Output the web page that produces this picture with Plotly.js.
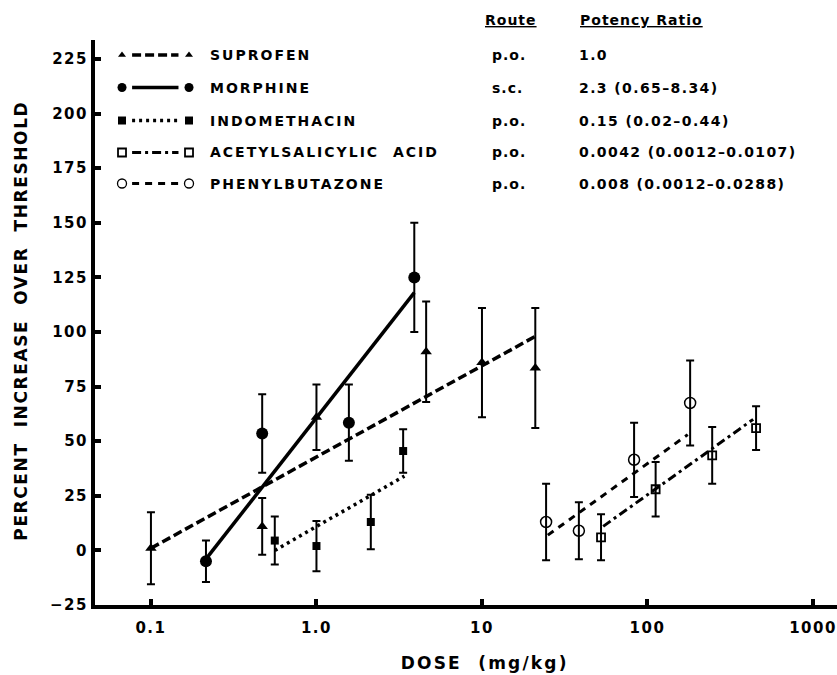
<!DOCTYPE html>
<html><head><meta charset="utf-8">
<script src="https://cdn.plot.ly/plotly-3.0.1.min.js"></script>
<style>body{margin:0;background:#fff}</style>
</head><body>
<div id="chart" style="width:837px;height:675px"></div>
<script>
// ---------------- DATA ----------------
const drugNames = ['SUPROFEN', 'MORPHINE', 'INDOMETHACIN', 'ACETYLSALICYLIC  ACID', 'PHENYLBUTAZONE'];
const drugRoutes = ['p.o.', 's.c.', 'p.o.', 'p.o.', 'p.o.'];
const potencyRatios = ['1.0', '2.3 (0.65\u20138.34)', '0.15 (0.02\u20130.44)', '0.0042 (0.0012\u20130.0107)', '0.008 (0.0012\u20130.0288)'];

const suprofenDose = [0.1, 0.47, 1.0, 4.6, 10, 21];
const suprofenResp = [1, 11, 61, 91, 86, 83.5];
const suprofenErr  = [16.5, 13, 15, 23, 25, 27.5];
const suprofenFitDose = [0.1, 21];
const suprofenFitResp = [1, 98];

const morphineDose = [0.215, 0.47, 1.57, 3.9];
const morphineResp = [-5, 53.5, 58.5, 125];
const morphineErr  = [9.5, 18, 17.5, 25];
const morphineFitDose = [0.22, 3.9];
const morphineFitResp = [-3, 118];

const indoDose = [0.56, 1.0, 2.13, 3.34];
const indoResp = [4.5, 2, 13, 45.5];
const indoErr  = [11, 11.5, 12.5, 10];
const indoFitDose = [0.56, 3.4];
const indoFitResp = [0, 34];

const asaDose = [52.4, 112, 246, 453];
const asaResp = [6, 28, 43.5, 56];
const asaErr  = [10.5, 12.5, 13, 10];
const asaFitDose = [54, 435];
const asaFitResp = [11, 60];

const phenDose = [24.4, 38.5, 83, 181];
const phenResp = [13, 9, 41.5, 67.5];
const phenErr  = [17.5, 13, 17, 19.5];
const phenFitDose = [25, 175];
const phenFitResp = [7, 53];

const doseTickVals = [0.1, 1, 10, 100, 1000];
const doseTickText = ['0.1', '1.0', '10', '100', '1000'];
const respTickVals = [-25, 0, 25, 50, 75, 100, 125, 150, 175, 200, 225];

// ---------------- STYLES ----------------
const FONT = 'DejaVu Sans';
const styles = [
  {marker: {symbol: 'triangle-up', size: 10, color: '#000'}, lmarker: {symbol: 'triangle-up', size: 7, color: '#000'}, line: {color: '#000', width: 3.5, dash: '9px,4px'}},
  {marker: {symbol: 'circle', size: 12, color: '#000'}, lmarker: {symbol: 'circle', size: 9, color: '#000'}, line: {color: '#000', width: 3.5}},
  {marker: {symbol: 'square', size: 8, color: '#000'}, lmarker: {symbol: 'square', size: 8, color: '#000'}, line: {color: '#000', width: 3.5, dash: '3px,4px'}},
  {marker: {symbol: 'square-open', size: 8, color: '#000', line: {width: 1.8}}, lmarker: {symbol: 'square-open', size: 8, color: '#000', line: {width: 1.8}}, line: {color: '#000', width: 3, dash: '9px,4px,3px,4px'}},
  {marker: {symbol: 'circle-open', size: 11, color: '#000', line: {width: 1.5}}, lmarker: {symbol: 'circle-open', size: 9, color: '#000', line: {width: 1.3}}, line: {color: '#000', width: 3, dash: '7px,6px'}}
];

const series = [
  [suprofenDose, suprofenResp, suprofenErr, suprofenFitDose, suprofenFitResp],
  [morphineDose, morphineResp, morphineErr, morphineFitDose, morphineFitResp],
  [indoDose, indoResp, indoErr, indoFitDose, indoFitResp],
  [asaDose, asaResp, asaErr, asaFitDose, asaFitResp],
  [phenDose, phenResp, phenErr, phenFitDose, phenFitResp]
];

const traces = [];
series.forEach((s, i) => {
  traces.push({type: 'scatter', mode: 'lines', x: s[3], y: s[4], line: styles[i].line,
    showlegend: false, hoverinfo: 'skip', cliponaxis: false});
  traces.push({type: 'scatter', mode: 'markers', x: s[0], y: s[1], marker: styles[i].marker,
    error_y: {type: 'data', array: s[2], visible: true, color: '#000', thickness: 2, width: 4},
    showlegend: false, cliponaxis: false, name: drugNames[i]});
});

// legend key glyphs (layout, in paper-like units of an overlay axis)
const keyRowY = [0.9735, 0.9159, 0.8575, 0.8009, 0.7460];
const keyMarkX = [0.0364, 0.1267];
const keyLineX = [0.0500, 0.1125];
drugNames.forEach((n, i) => {
  traces.push({type: 'scatter', mode: 'lines', x: keyLineX, y: [keyRowY[i], keyRowY[i]],
    xaxis: 'x2', yaxis: 'y2', line: styles[i].line, showlegend: false, hoverinfo: 'skip', cliponaxis: false});
  traces.push({type: 'scatter', mode: 'markers', x: keyMarkX, y: [keyRowY[i], keyRowY[i]],
    xaxis: 'x2', yaxis: 'y2', marker: styles[i].lmarker, showlegend: false, hoverinfo: 'skip', cliponaxis: false});
});

const annotations = [];
const spacing = [];
function ann(text, x, y, size, sp, extra) {
  annotations.push(Object.assign({text: text, x: x, y: y, xref: 'paper', yref: 'paper',
    xanchor: 'left', yanchor: 'middle', align: 'left', showarrow: false,
    font: {family: FONT, size: size, color: '#000', weight: 'bold'}}, extra || {}));
  spacing.push(sp);
}
drugNames.forEach((n, i) => {
  ann(n, 0.1523, keyRowY[i], 14, 2);
  ann(drugRoutes[i], 0.532, keyRowY[i], 14, 1);
  ann(potencyRatios[i], 0.650, keyRowY[i], 14, 1.4);
});
ann('Route', 0.523, 1.035, 14, 1, {font: {family: FONT, size: 14, color: '#000', weight: 'bold', lineposition: 'under'}});
ann('Potency Ratio', 0.651, 1.035, 14, 1, {font: {family: FONT, size: 14, color: '#000', weight: 'bold', lineposition: 'under'}});
ann('DOSE  (mg/kg)', 0.5256, -0.1027, 17, 2.2, {xanchor: 'center', align: 'center'});
ann('PERCENT  INCREASE  OVER  THRESHOLD', -0.1004, 0.5027, 17, 1.6, {xanchor: 'center', align: 'center', textangle: -90});

const axisFont = {family: FONT, size: 15, color: '#000', weight: 'bold'};
const layout = {
  width: 837, height: 675,
  margin: {l: 95, r: 0, t: 40, b: 70},
  paper_bgcolor: '#fff', plot_bgcolor: '#fff',
  font: {family: FONT, color: '#000'},
  showlegend: false,
  xaxis: {type: 'log', range: [-1.338, 3.145], tickvals: doseTickVals, ticktext: doseTickText,
    ticks: 'inside', ticklen: 6, tickwidth: 4, tickcolor: '#000',
    showline: true, linewidth: 4, linecolor: '#000', showgrid: false, zeroline: false,
    tickfont: axisFont, ticklabelstandoff: 6},
  yaxis: {range: [-25, 233.7], tickvals: respTickVals,
    ticks: 'inside', ticklen: 6, tickwidth: 4, tickcolor: '#000',
    showline: true, linewidth: 4, linecolor: '#000', showgrid: false, zeroline: false,
    tickfont: axisFont, ticklabelstandoff: 0},
  xaxis2: {overlaying: 'x', range: [0, 1], visible: false, anchor: 'y2'},
  yaxis2: {overlaying: 'y', range: [0, 1], visible: false, anchor: 'x2'},
  annotations: annotations
};

Plotly.newPlot('chart', traces, layout, {staticPlot: true}).then(gd => {
  gd.querySelectorAll('.annotation').forEach(g => {
    const i = +g.getAttribute('data-index');
    const t = g.querySelector('text');
    if (t && spacing[i] != null) t.style.letterSpacing = spacing[i] + 'px';
  });
  gd.querySelectorAll('.xtick text, .ytick text').forEach(t => { t.style.letterSpacing = '1.5px'; });
});
</script>
</body></html>
